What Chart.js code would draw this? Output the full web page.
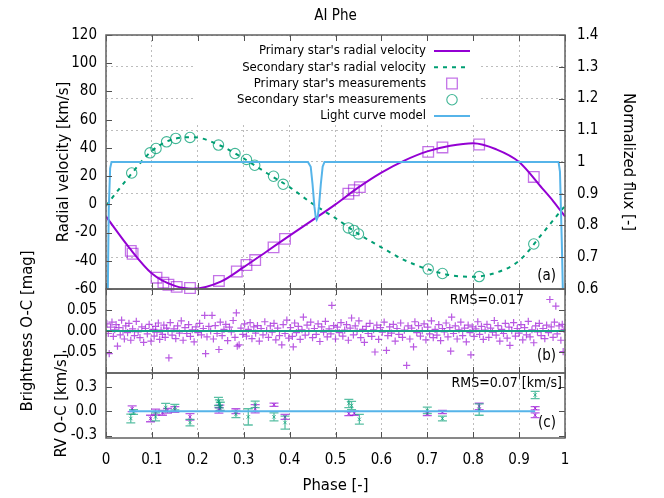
<!DOCTYPE html>
<html>
<head>
<meta charset="utf-8">
<script src="https://cdn.jsdelivr.net/npm/chart.js@4.4.1/dist/chart.umd.min.js"></script>
<style>
  html, body { margin: 0; padding: 0; background: #fff; }
  #wrap { position: relative; width: 664px; height: 498px; }
  #wrap canvas { position: absolute; left: 0; top: 0; }
</style>
</head>
<body>
<div id="wrap">
  <canvas id="rvChart" width="664" height="498"></canvas>
  <canvas id="lcResChart" width="664" height="498"></canvas>
  <canvas id="rvResChart" width="664" height="498"></canvas>
</div>
<script>
// ---- data ----
// model radial velocities (km/s)
const rvPhase     = [0, 0.05, 0.1, 0.15, 0.19, 0.25, 0.3, 0.35, 0.4, 0.45, 0.5, 0.55, 0.6, 0.65, 0.7, 0.75, 0.8, 0.85, 0.9, 0.95, 0.975, 1];
const primaryRV   = [-8.6, -30.5, -49, -57.8, -59.8, -54.8, -44.5, -33.4, -22.2, -11.2, 0, 12, 22.5, 31, 37.5, 41.5, 43.3, 39, 30, 11.5, 2, -8.6];
const secondaryRV = [-1, 19.5, 37.9, 46.5, 47.6, 41.5, 32.5, 22.2, 12.2, 0.4, -9.8, -21, -30.5, -39.5, -45.9, -50.2, -51.3, -48.4, -40, -21, -11, -1];

// measured radial velocities
const primaryObsPhase = [0.054, 0.058, 0.110, 0.125, 0.136, 0.154, 0.183, 0.246, 0.285, 0.306, 0.325, 0.365, 0.390, 0.528, 0.540, 0.553, 0.702, 0.733, 0.813, 0.932];
const primaryObsRV    = [-33, -35, -52, -55.5, -57, -58.5, -59.3, -54.3, -47.6, -43, -39.5, -30.5, -24.5, 7.5, 10, 12.2, 37.2, 40.3, 42.4, 19.4];
const secondaryObsPhase = [0.056, 0.096, 0.109, 0.132, 0.152, 0.183, 0.245, 0.281, 0.306, 0.324, 0.365, 0.386, 0.528, 0.540, 0.550, 0.702, 0.733, 0.813, 0.932];
const secondaryObsRV    = [22.2, 36.5, 39.6, 44.3, 46.7, 47.4, 42, 36, 31.8, 27.7, 19.9, 14.2, -16.7, -18.5, -21, -45.9, -49, -51.2, -28.1];

// light curve model (normalized flux)
const lcModelPhase = [0, 0.004, 0.006, 0.009, 0.012, 0.440, 0.446, 0.450, 0.454, 0.457, 0.459, 0.461, 0.464, 0.468, 0.472, 0.476, 0.986, 0.989, 0.993, 0.996, 1];
const lcModelFlux  = [0.42, 0.6, 0.85, 0.98, 1, 1, 0.985, 0.93, 0.86, 0.825, 0.818, 0.825, 0.86, 0.93, 0.985, 1, 1, 0.97, 0.75, 0.55, 0.42];

// brightness O-C (mag): [phase, residual]
const lcResiduals = [
  [0.002,0.017],[0.005,-0.006],[0.007,-0.054],[0.010,0.009],[0.013,0.021],[0.016,-0.013],[0.019,0.003],[0.022,0.015],
  [0.025,-0.036],[0.028,0.008],[0.031,-0.009],[0.034,0.026],[0.037,0.001],[0.040,-0.019],[0.043,0.012],[0.047,-0.004],
  [0.050,0.018],[0.054,-0.022],[0.058,0.005],[0.062,-0.011],[0.066,0.023],[0.070,-0.002],[0.074,-0.016],[0.078,0.010],
  [0.082,-0.027],[0.086,0.006],[0.090,-0.007],[0.094,0.016],[0.098,-0.024],
  [0.102,0.004],[0.105,-0.012],[0.108,0.011],[0.111,-0.003],[0.114,0.019],[0.117,-0.020],[0.120,0.002],[0.123,-0.008],
  [0.126,0.014],[0.129,-0.015],[0.132,0.007],[0.135,-0.001],[0.137,-0.064],[0.140,0.020],[0.144,-0.010],[0.148,0.005],
  [0.152,-0.018],[0.156,0.012],[0.160,-0.005],[0.164,0.024],[0.168,-0.022],[0.172,0.008],[0.176,-0.006],[0.180,0.015],
  [0.184,-0.013],[0.188,0.003],[0.192,-0.026],[0.196,0.010],
  [0.200,-0.004],[0.204,0.018],[0.208,-0.009],[0.212,0.006],[0.215,0.037],[0.217,-0.054],[0.220,-0.014],[0.224,0.011],
  [0.228,0.000],[0.231,0.037],[0.234,-0.019],[0.238,0.013],[0.242,-0.006],[0.246,-0.044],[0.249,0.021],[0.253,-0.011],
  [0.257,0.004],[0.261,0.016],[0.265,-0.023],[0.269,0.009],[0.273,-0.002],[0.277,0.025],[0.281,-0.015],[0.284,0.043],
  [0.286,-0.036],[0.290,-0.033],[0.294,0.007],[0.298,-0.008],
  [0.302,0.017],[0.306,-0.012],[0.310,0.004],[0.314,0.020],[0.318,-0.018],[0.322,0.010],[0.326,-0.005],[0.330,0.013],
  [0.334,-0.024],[0.338,0.006],[0.342,-0.009],[0.346,0.022],[0.350,0.001],[0.354,-0.015],[0.358,0.012],[0.362,-0.003],
  [0.366,0.018],[0.370,-0.021],[0.374,0.007],[0.378,-0.011],[0.383,-0.033],[0.386,0.015],[0.390,-0.006],[0.394,0.026],
  [0.398,-0.017],
  [0.402,0.008],[0.406,-0.013],[0.408,-0.038],[0.411,0.019],[0.415,-0.004],[0.419,0.011],[0.423,-0.020],[0.427,0.003],
  [0.430,0.033],[0.434,-0.010],[0.438,0.014],[0.442,-0.001],[0.446,0.021],[0.450,-0.016],[0.454,0.006],[0.458,-0.008],
  [0.462,0.017],[0.466,-0.025],[0.470,0.010],[0.474,-0.003],[0.478,0.023],[0.482,-0.014],[0.486,0.005],[0.490,-0.007],
  [0.492,0.061],[0.496,0.013],
  [0.500,-0.019],[0.504,0.009],[0.508,-0.004],[0.512,0.020],[0.516,-0.012],[0.520,0.002],[0.524,0.015],[0.528,-0.022],
  [0.532,0.007],[0.535,0.031],[0.539,-0.009],[0.543,0.012],[0.547,-0.001],[0.551,0.024],[0.555,-0.016],[0.559,0.004],
  [0.563,-0.027],[0.567,0.011],[0.571,-0.006],[0.575,0.018],[0.579,-0.013],[0.583,0.003],[0.586,-0.050],[0.590,0.014],
  [0.594,-0.020],[0.598,0.008],
  [0.602,-0.003],[0.606,0.021],[0.611,-0.046],[0.614,-0.011],[0.618,0.010],[0.622,-0.005],[0.626,0.016],[0.630,-0.024],
  [0.634,0.006],[0.638,-0.008],[0.642,0.019],[0.646,-0.015],[0.650,0.002],[0.655,-0.082],[0.658,0.012],[0.662,-0.019],
  [0.666,0.007],[0.670,-0.038],[0.673,0.022],[0.677,-0.004],[0.681,0.013],[0.685,-0.012],[0.689,0.001],[0.693,0.017],
  [0.697,-0.021],
  [0.701,0.009],[0.705,-0.007],[0.709,0.024],[0.713,-0.016],[0.717,0.004],[0.721,-0.010],[0.725,0.015],[0.729,-0.023],
  [0.733,0.006],[0.737,-0.002],[0.741,0.019],[0.745,-0.014],[0.749,0.008],[0.751,-0.048],[0.753,0.033],[0.757,-0.006],
  [0.761,0.012],[0.765,-0.019],[0.769,0.003],[0.773,0.021],[0.777,-0.011],[0.781,0.007],[0.785,-0.026],[0.789,0.014],
  [0.793,-0.004],[0.795,-0.057],[0.798,0.010],
  [0.802,-0.013],[0.806,0.005],[0.810,0.022],[0.814,-0.008],[0.818,0.011],[0.822,-0.020],[0.826,0.002],[0.830,0.016],
  [0.834,-0.015],[0.838,0.007],[0.842,-0.003],[0.846,0.025],[0.850,-0.010],[0.854,0.013],[0.858,-0.024],[0.862,0.004],
  [0.866,-0.006],[0.870,0.018],[0.874,-0.017],[0.878,0.009],[0.880,-0.034],[0.884,0.001],[0.888,0.020],[0.892,-0.012],
  [0.896,0.006],
  [0.900,-0.005],[0.904,0.015],[0.908,-0.021],[0.912,0.008],[0.916,-0.009],[0.920,0.023],[0.924,-0.014],[0.928,0.003],
  [0.932,-0.028],[0.936,0.012],[0.940,-0.002],[0.944,0.018],[0.948,-0.011],[0.952,0.006],[0.956,-0.018],[0.960,0.014],
  [0.964,-0.004],[0.967,0.075],[0.970,0.010],[0.974,-0.015],[0.977,0.021],[0.980,0.059],[0.983,-0.007],[0.987,0.012],
  [0.991,-0.022],[0.994,0.016],[0.996,-0.049],[0.998,0.004]
];
const lcZeroPhase = [0, 1];
const lcZeroValue = [0, 0];

// radial velocity O-C (km/s)
const primaryOcPhase = [0.057, 0.097, 0.108, 0.123, 0.134, 0.150, 0.183, 0.246, 0.248, 0.283, 0.325, 0.366, 0.390, 0.529, 0.541, 0.700, 0.733, 0.813, 0.935, 0.935];
const primaryOc      = [0.03, -0.09, -0.01, -0.02, 0.005, 0.02, -0.07, 0.01, 0.04, 0.0, 0.03, 0.08, -0.07, -0.03, -0.025, -0.03, -0.01, 0.06, 0.037, -0.05];
const primaryOcErr   = [0.035, 0.04, 0.035, 0.03, 0.03, 0.035, 0.04, 0.035, 0.035, 0.03, 0.05, 0.02, 0.03, 0.025, 0.025, 0.025, 0.02, 0.04, 0.02, 0.03];
const secondaryOcPhase = [0.054, 0.060, 0.108, 0.130, 0.150, 0.183, 0.245, 0.247, 0.249, 0.283, 0.310, 0.325, 0.366, 0.390, 0.529, 0.535, 0.552, 0.700, 0.733, 0.813, 0.935];
const secondaryOc      = [-0.09, -0.01, -0.07, 0.045, 0.05, -0.14, 0.12, 0.09, 0.06, -0.04, -0.07, 0.083, -0.07, -0.14, 0.095, 0.07, -0.1, 0.01, -0.09, 0.02, 0.2];
const secondaryOcErr   = [0.055, 0.03, 0.05, 0.05, 0.035, 0.04, 0.05, 0.05, 0.05, 0.04, 0.1, 0.04, 0.05, 0.08, 0.05, 0.05, 0.06, 0.04, 0.03, 0.07, 0.045];
const rvZeroPhase = [0.05, 0.935];
const rvZeroValue = [0, 0];

// tick labels
const phaseTicks = [0, 0.1, 0.2, 0.3, 0.4, 0.5, 0.6, 0.7, 0.8, 0.9, 1];
const rvTicks = [-60, -40, -20, 0, 20, 40, 60, 80, 100, 120];
const fluxTicks = [0.6, 0.7, 0.8, 0.9, 1.0, 1.1, 1.2, 1.3, 1.4];
const lcResTicks = [-0.05, 0, 0.05];
const rvResTicks = [-0.3, 0, 0.3];

// ---- helpers ----
const FONT = "'DejaVu Sans Condensed', 'Noto Sans', sans-serif";
Chart.defaults.font.family = FONT;
Chart.defaults.color = '#000';
Chart.defaults.animation = false;

const GRID = '#bdbdbd';
const DASH = [2, 3];
const PURPLE = '#9400d3';
const GREEN = '#009e73';
const BLUE = '#56b4e9';

const xy = (xs, ys) => xs.map((x, i) => ({x: x, y: ys[i]}));
const xye = (xs, ys, es) => xs.map((x, i) => ({x: x, y: ys[i], err: es[i]}));
const fixTicks = vals => scale => { scale.ticks = vals.map(v => ({value: v})); };
const fixWidth = w => scale => { scale.width = w; };
const fixHeight = h => scale => { scale.height = h; };
const oneDec = v => Number(v.toFixed(1)).toString();

// gnuplot-like frame, inward ticks, key, error bars and labels
const panelPlugin = {
  id: 'panel',
  beforeDatasetsDraw(chart, args, o) {
    const L = o.legend;
    if (!L) return;
    const ctx = chart.ctx;
    ctx.save();
    ctx.fillStyle = '#fff';
    ctx.fillRect(L.box[0], L.box[1], L.box[2], L.box[3]);
    ctx.font = L.font;
    ctx.textAlign = 'right';
    ctx.textBaseline = 'middle';
    chart.data.datasets.forEach((ds, i) => {
      const y = L.top + i * L.row;
      ctx.fillStyle = '#000';
      ctx.fillText(ds.label, L.textRight, y);
      ctx.strokeStyle = ds.borderColor;
      ctx.lineWidth = ds.borderWidth;
      ctx.beginPath();
      if (ds.showLine) {
        ctx.setLineDash(ds.borderDash || []);
        ctx.moveTo(L.sample[0], y);
        ctx.lineTo(L.sample[1], y);
      } else {
        ctx.setLineDash([]);
        const cx = (L.sample[0] + L.sample[1]) / 2;
        if (ds.pointStyle === 'rect') {
          const s = Math.SQRT1_2 * ds.pointRadius;
          ctx.rect(cx - s, y - s, 2 * s, 2 * s);
        } else {
          ctx.arc(cx, y, ds.pointRadius, 0, Math.PI * 2);
        }
      }
      ctx.stroke();
    });
    ctx.restore();
  },
  afterDatasetDraw(chart, args) {
    const ds = chart.data.datasets[args.index];
    if (!ds.errorBars) return;
    const ctx = chart.ctx;
    const xs = chart.scales.x;
    const ys = chart.scales[args.meta.yAxisID];
    ctx.save();
    ctx.strokeStyle = ds.borderColor;
    ctx.lineWidth = 1.3;
    ds.data.forEach(p => {
      const px = xs.getPixelForValue(p.x);
      const t = ys.getPixelForValue(p.y + p.err);
      const b = ys.getPixelForValue(p.y - p.err);
      ctx.beginPath();
      ctx.moveTo(px, t); ctx.lineTo(px, b);
      ctx.moveTo(px - 4.5, t); ctx.lineTo(px + 4.5, t);
      ctx.moveTo(px - 4.5, b); ctx.lineTo(px + 4.5, b);
      ctx.stroke();
    });
    ctx.restore();
  },
  afterDatasetsDraw(chart, args, o) {
    const ctx = chart.ctx;
    const a = chart.chartArea;
    const len = 6;
    ctx.save();
    ctx.strokeStyle = '#505050';
    ctx.lineWidth = 1;
    (o.ticks || []).forEach(([id, sides]) => {
      const s = chart.scales[id];
      s.ticks.forEach(t => {
        const p = Math.round(s.getPixelForValue(t.value)) + 0.5;
        ctx.beginPath();
        if (s.isHorizontal()) {
          ctx.moveTo(p, a.bottom); ctx.lineTo(p, a.bottom - len);
          ctx.moveTo(p, a.top); ctx.lineTo(p, a.top + len);
        } else {
          if (sides.includes('l')) { ctx.moveTo(a.left, p); ctx.lineTo(a.left + len, p); }
          if (sides.includes('r')) { ctx.moveTo(a.right, p); ctx.lineTo(a.right - len, p); }
        }
        ctx.stroke();
      });
    });
    ctx.lineWidth = 1.5;
    ctx.strokeStyle = '#606060';
    ctx.strokeRect(a.left, a.top, a.right - a.left, a.bottom - a.top);
    ctx.restore();
  },
  afterDraw(chart, args, o) {
    const ctx = chart.ctx;
    ctx.save();
    ctx.fillStyle = '#000';
    ctx.textBaseline = 'middle';
    (o.notes || []).forEach(n => {
      ctx.font = n.size + 'px ' + FONT;
      ctx.textAlign = n.align;
      ctx.fillText(n.text, n.x, n.y);
    });
    ctx.restore();
  }
};
Chart.register(panelPlugin);

const tickFont = {size: 15};
const titleFont = {size: 16.5};

// ---- panel (a): radial velocities and light curve ----
new Chart(document.getElementById('rvChart'), {
  type: 'scatter',
  data: {
    datasets: [
      {label: "Primary star's radial velocity", data: xy(rvPhase, primaryRV), showLine: true,
       borderColor: PURPLE, borderWidth: 2, pointRadius: 0, cubicInterpolationMode: 'monotone', yAxisID: 'y', order: 5},
      {label: "Secondary star's radial velocity", data: xy(rvPhase, secondaryRV), showLine: true,
       borderColor: GREEN, borderWidth: 2, borderDash: [4, 5], pointRadius: 0, cubicInterpolationMode: 'monotone', yAxisID: 'y', order: 4},
      {label: "Primary star's measurements", data: xy(primaryObsPhase, primaryObsRV), pointStyle: 'rect', pointRadius: 7.5,
       borderColor: 'rgba(148,0,211,0.55)', backgroundColor: 'rgba(0,0,0,0)', borderWidth: 1.3, yAxisID: 'y', order: 3, clip: false},
      {label: "Secondary star's measurements", data: xy(secondaryObsPhase, secondaryObsRV), pointStyle: 'circle', pointRadius: 5.2,
       borderColor: 'rgba(0,158,115,0.75)', backgroundColor: 'rgba(0,0,0,0)', borderWidth: 1.1, yAxisID: 'y', order: 2, clip: false},
      {label: 'Light curve model', data: xy(lcModelPhase, lcModelFlux), showLine: true,
       borderColor: BLUE, borderWidth: 2, pointRadius: 0, yAxisID: 'y2', order: 1}
    ]
  },
  options: {
    responsive: false,
    events: [],
    layout: {padding: {top: 35, bottom: 209, left: 0, right: 0}},
    plugins: {
      legend: {display: false},
      tooltip: {enabled: false},
      panel: {
        ticks: [['x', ''], ['y', 'l'], ['y2', 'r']],
        legend: {box: [193, 38, 285, 86], font: '13px ' + FONT, textRight: 426, sample: [434, 470], top: 51, row: 16.25},
        notes: [
          {text: 'AI Phe', x: 335.5, y: 16, align: 'center', size: 15},
          {text: '(a)', x: 556, y: 276, align: 'right', size: 15}
        ]
      }
    },
    scales: {
      x: {
        type: 'linear', min: 0, max: 1,
        afterBuildTicks: fixTicks(phaseTicks), afterFit: fixHeight(0),
        ticks: {display: false},
        grid: {color: GRID, drawTicks: false},
        border: {display: false, dash: DASH}
      },
      y: {
        position: 'left', min: -60, max: 120,
        afterBuildTicks: fixTicks(rvTicks), afterFit: fixWidth(106),
        ticks: {padding: 9, font: tickFont, callback: v => String(v)},
        grid: {drawOnChartArea: false, drawTicks: false},
        border: {display: false},
        title: {display: true, text: 'Radial velocity [km/s]', font: titleFont, padding: {top: 54}}
      },
      y2: {
        position: 'right', min: 0.6, max: 1.4,
        afterBuildTicks: fixTicks(fluxTicks), afterFit: fixWidth(99),
        ticks: {padding: 12, font: tickFont, callback: oneDec},
        grid: {color: GRID, drawTicks: false},
        border: {display: false, dash: DASH},
        title: {display: true, text: 'Normalized flux [-]', font: titleFont, padding: {top: 26}}
      }
    }
  }
});

// ---- panel (b): brightness O-C ----
new Chart(document.getElementById('lcResChart'), {
  type: 'scatter',
  data: {
    datasets: [
      {label: 'zero', data: xy(lcZeroPhase, lcZeroValue), showLine: true, borderColor: '#17a085', borderWidth: 2, pointRadius: 0, order: 0},
      {label: 'O-C', data: lcResiduals.map(p => ({x: p[0], y: p[1]})), pointStyle: 'cross', pointRadius: 3.6,
       borderColor: 'rgba(148,0,211,0.65)', borderWidth: 1.2, order: 1}
    ]
  },
  options: {
    responsive: false,
    events: [],
    layout: {padding: {top: 289, bottom: 125, left: 0, right: 99}},
    plugins: {
      legend: {display: false},
      tooltip: {enabled: false},
      panel: {
        ticks: [['x', ''], ['y', 'lr']],
        notes: [
          {text: 'RMS=0.017', x: 524, y: 300, align: 'right', size: 14},
          {text: '(b)', x: 556, y: 356, align: 'right', size: 15}
        ]
      }
    },
    scales: {
      x: {
        type: 'linear', min: 0, max: 1,
        afterBuildTicks: fixTicks(phaseTicks), afterFit: fixHeight(0),
        ticks: {display: false},
        grid: {color: GRID, drawTicks: false},
        border: {display: false, dash: DASH}
      },
      y: {
        min: -0.1, max: 0.1,
        afterBuildTicks: fixTicks(lcResTicks), afterFit: fixWidth(106),
        ticks: {padding: 9, font: tickFont, callback: v => v.toFixed(2)},
        grid: {drawOnChartArea: false, drawTicks: false},
        border: {display: false},
        title: {display: true, text: 'Brightness O-C [mag]', font: titleFont, padding: {top: 18}}
      }
    }
  }
});

// ---- panel (c): radial velocity O-C ----
new Chart(document.getElementById('rvResChart'), {
  type: 'scatter',
  data: {
    datasets: [
      {label: 'zero', data: xy(rvZeroPhase, rvZeroValue), showLine: true, borderColor: BLUE, borderWidth: 2, pointRadius: 0, order: 0},
      {label: 'primary', data: xye(primaryOcPhase, primaryOc, primaryOcErr), errorBars: true, pointStyle: 'crossRot', pointRadius: 2.5,
       borderColor: 'rgba(148,0,211,0.65)', borderWidth: 1, order: 2},
      {label: 'secondary', data: xye(secondaryOcPhase, secondaryOc, secondaryOcErr), errorBars: true, pointStyle: 'crossRot', pointRadius: 2.5,
       borderColor: 'rgba(0,158,115,0.65)', borderWidth: 1, order: 1}
    ]
  },
  options: {
    responsive: false,
    events: [],
    layout: {padding: {top: 373, bottom: 0, left: 0, right: 99}},
    plugins: {
      legend: {display: false},
      tooltip: {enabled: false},
      panel: {
        ticks: [['x', ''], ['y', 'lr']],
        notes: [
          {text: 'RMS=0.07 [km/s]', x: 562, y: 383, align: 'right', size: 14},
          {text: '(c)', x: 556, y: 423, align: 'right', size: 15}
        ]
      }
    },
    scales: {
      x: {
        type: 'linear', min: 0, max: 1,
        afterBuildTicks: fixTicks(phaseTicks), afterFit: fixHeight(60),
        ticks: {padding: 13, font: tickFont, callback: oneDec, maxRotation: 0},
        grid: {color: GRID, drawTicks: false},
        border: {display: false, dash: DASH},
        title: {display: true, text: 'Phase [-]', font: titleFont, padding: {bottom: 2}}
      },
      y: {
        min: -0.33, max: 0.47,
        afterBuildTicks: fixTicks(rvResTicks), afterFit: fixWidth(106),
        ticks: {padding: 9, font: tickFont, callback: v => v.toFixed(1)},
        grid: {drawOnChartArea: false, drawTicks: false},
        border: {display: false},
        title: {display: true, text: 'RV O-C [km/s]', font: titleFont, padding: {top: 52}}
      }
    }
  }
});
</script>
</body>
</html>
